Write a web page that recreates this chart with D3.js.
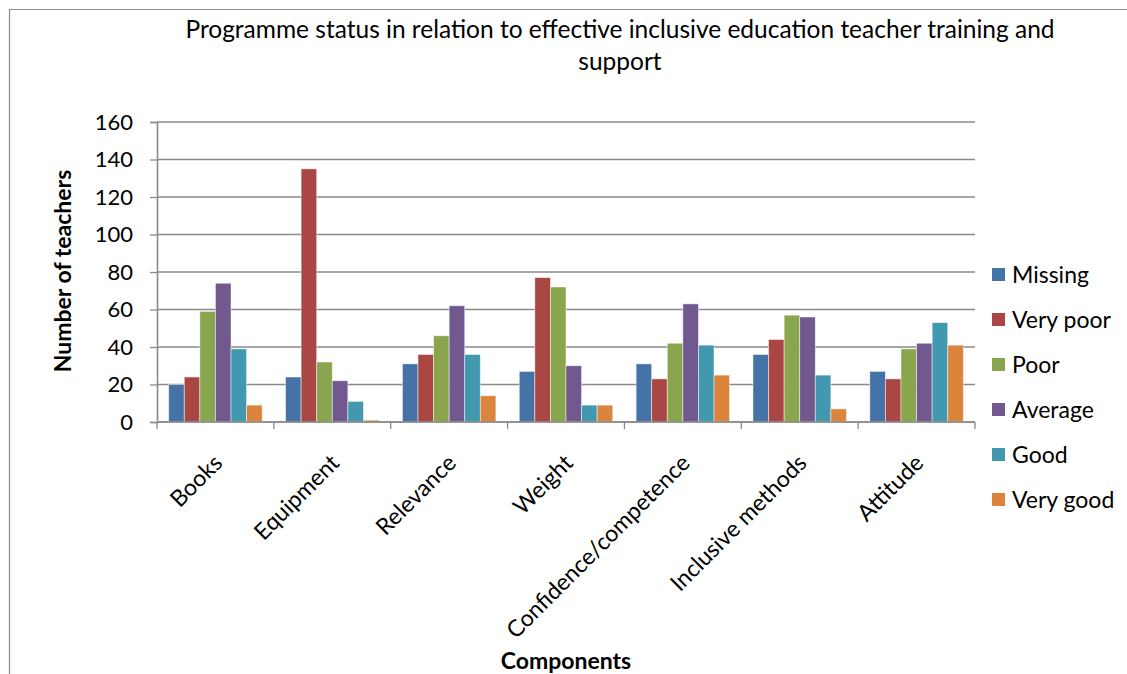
<!DOCTYPE html>
<meta charset="utf-8">
<style>
body { margin: 0; background: #fff; }
text { font-family: "Lato", "Open Sans", sans-serif; fill: #000; }
</style>
<body>
<script src="https://d3js.org/d3.v7.min.js"></script>
<script>

// chart data
const components = ["Books", "Equipment", "Relevance", "Weight", "Confidence/competence", "Inclusive methods", "Attitude"];
const ratings = ["Missing", "Very poor", "Poor", "Average", "Good", "Very good"];
const missing  = [20, 24, 31, 27, 31, 36, 27];
const veryPoor = [24, 135, 36, 77, 23, 44, 23];
const poor     = [59, 32, 46, 72, 42, 57, 39];
const average  = [74, 22, 62, 30, 63, 56, 42];
const good     = [39, 11, 36, 9, 41, 25, 53];
const veryGood = [9, 1, 14, 9, 25, 7, 41];
const yTicks = [0, 20, 40, 60, 80, 100, 120, 140, 160];

const seriesValues = [missing, veryPoor, poor, average, good, veryGood];
const colors = ["#4572A7", "#AA4643", "#89A54E", "#71588F", "#4198AF", "#DB843D"];

const W = 1127, H = 674;
const plot = { left: 157, right: 975, top: 122, bottom: 422 };

const svg = d3.select("body").append("svg")
   .attr("width", W)
   .attr("height", H);

// outer chart frame (only top and left edges are visible in the crop)
svg.append("path")
   .attr("d", `M9.5,${H} V9.5 H${W}`)
   .attr("fill", "none")
   .attr("stroke", "#8c8c8c")
   .attr("stroke-width", 1.2);

const x0 = d3.scaleBand()
   .domain(components)
   .range([plot.left, plot.right])
   .paddingInner(0)
   .paddingOuter(0);

const bandW = x0.bandwidth();
const barW = bandW / 7.5; // excel gap width 150%

const y = d3.scaleLinear()
   .domain([0, 160])
   .range([plot.bottom, plot.top]);

// grid lines
svg.append("g")
   .selectAll("line")
   .data(yTicks)
   .join("line")
   .attr("x1", plot.left)
   .attr("x2", plot.right)
   .attr("y1", d => y(d))
   .attr("y2", d => y(d))
   .attr("stroke", "#8a8a8a")
   .attr("stroke-width", 1.3);

// bars
const groups = svg.append("g")
   .selectAll("g")
   .data(ratings)
   .join("g")
   .attr("fill", (d, i) => colors[i]);

groups.selectAll("rect")
   .data((r, i) => seriesValues[i].map((v, j) => ({ comp: components[j], value: v, idx: i })))
   .join("rect")
   .attr("x", d => x0(d.comp) + bandW * 0.1 + d.idx * barW)
   .attr("width", barW)
   .attr("y", d => y(d.value))
   .attr("height", d => y(0) - y(d.value))
   .attr("stroke", "#ffffff")
   .attr("stroke-opacity", 0.6)
   .attr("stroke-width", 0.8);

// y axis
const yAxis = d3.axisLeft(y)
   .tickValues(yTicks)
   .tickSize(7)
   .tickPadding(17);

svg.append("g")
   .attr("transform", `translate(${plot.left},0)`)
   .call(yAxis)
   .call(g => g.select(".domain").attr("stroke", "#8a8a8a").attr("stroke-width", 1.6))
   .call(g => g.selectAll(".tick line").attr("stroke", "#8a8a8a").attr("stroke-width", 1.3))
   .call(g => g.selectAll(".tick text")
      .style("font-family", "Lato, sans-serif")
      .style("font-size", "22px")
      .attr("fill", "#000"));

// x axis: ticks sit on category boundaries
const boundaries = components.map(c => x0(c)).concat([plot.right]);
svg.append("line")
   .attr("x1", plot.left)
   .attr("x2", plot.right)
   .attr("y1", plot.bottom)
   .attr("y2", plot.bottom)
   .attr("stroke", "#8a8a8a")
   .attr("stroke-width", 1.6);

svg.append("g")
   .selectAll("line")
   .data(boundaries)
   .join("line")
   .attr("x1", d => d)
   .attr("x2", d => d)
   .attr("y1", plot.bottom)
   .attr("y2", plot.bottom + 7)
   .attr("stroke", "#8a8a8a")
   .attr("stroke-width", 1.3);

svg.append("g")
   .selectAll("text")
   .data(components)
   .join("text")
   .attr("transform", d => `translate(${x0(d) + bandW / 2 - 3},${plot.bottom + 31}) rotate(-45)`)
   .attr("text-anchor", "end")
   .attr("dy", "0.7em")
   .style("font-size", "23px")
   .text(d => d);

// titles
const title = svg.append("text")
   .attr("x", 620)
   .attr("y", 38)
   .attr("text-anchor", "middle")
   .style("font-size", "24.5px");
title.append("tspan").attr("x", 620).text("Programme status in relation to effective inclusive education teacher training and");
title.append("tspan").attr("x", 620).attr("dy", 32).text("support");

svg.append("text")
   .attr("transform", `translate(71,${(plot.top + plot.bottom) / 2 - 1}) rotate(-90)`)
   .attr("text-anchor", "middle")
   .style("font-size", "23px")
   .style("font-weight", "bold")
   .text("Number of teachers");

svg.append("text")
   .attr("x", 566)
   .attr("y", 669)
   .attr("text-anchor", "middle")
   .style("font-size", "23px")
   .style("font-weight", "bold")
   .text("Components");

// legend
const legend = svg.append("g")
   .selectAll("g")
   .data(ratings)
   .join("g")
   .attr("transform", (d, i) => `translate(992,${275 + i * 45})`);

legend.append("rect")
   .attr("x", 0)
   .attr("y", -7)
   .attr("width", 13)
   .attr("height", 13)
   .attr("fill", (d, i) => colors[i]);

legend.append("text")
   .attr("x", 20)
   .attr("dy", "0.36em")
   .style("font-size", "23px")
   .text(d => d);

</script>
</body>
